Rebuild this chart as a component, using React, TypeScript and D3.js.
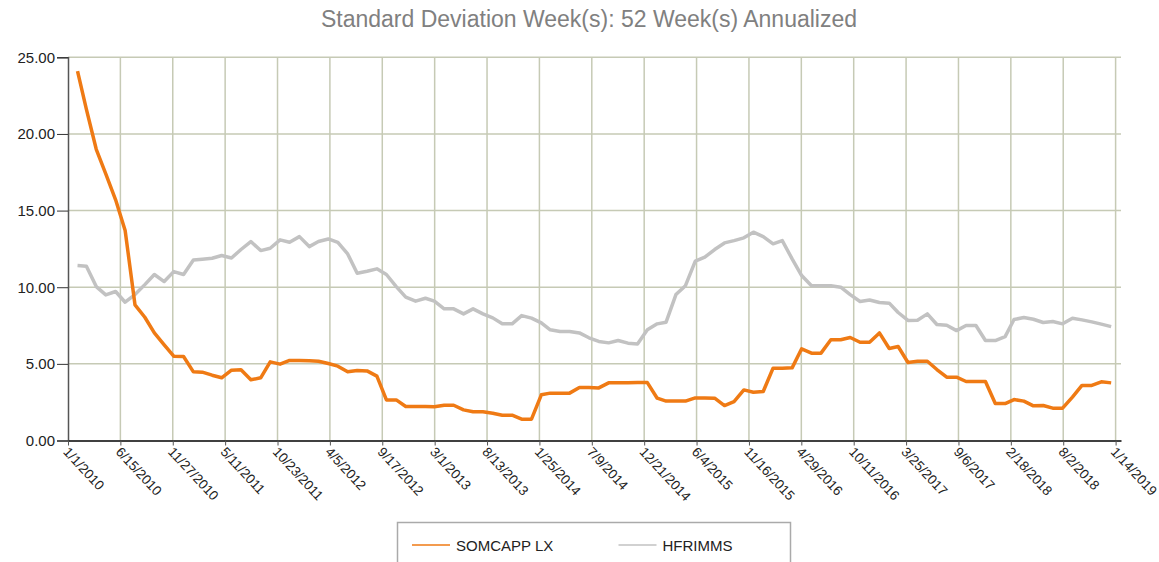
import React, { useEffect, useRef } from "react";
import * as d3 from "d3";

// monthly observations, month ends Jan 2010 .. Dec 2018
const firstMonth = "2010-01";
const somcapp = [
  24.1, 21.6, 19.0, 17.4, 15.7, 13.7, 8.85, 8.04, 7.02, 6.24, 5.5, 5.48, 4.48, 4.46, 4.26, 4.09, 4.59, 4.61, 3.96, 4.09,
  5.13, 4.98, 5.22, 5.22, 5.2, 5.17, 5.02, 4.85, 4.48, 4.57, 4.54, 4.2, 2.65, 2.65, 2.22, 2.22, 2.22, 2.2, 2.3, 2.3,
  2.0, 1.87, 1.87, 1.78, 1.65, 1.65, 1.39, 1.39, 2.98, 3.09, 3.09, 3.09, 3.46, 3.45, 3.43, 3.76, 3.76, 3.76, 3.78, 3.78,
  2.76, 2.57, 2.57, 2.57, 2.78, 2.78, 2.76, 2.28, 2.54, 3.3, 3.15, 3.2, 4.72, 4.72, 4.74, 5.98, 5.7, 5.7, 6.57, 6.57,
  6.72, 6.41, 6.41, 7.02, 6.0, 6.13, 5.09, 5.17, 5.17, 4.63, 4.13, 4.13, 3.85, 3.85, 3.85, 2.41, 2.41, 2.67, 2.57, 2.26,
  2.28, 2.11, 2.11, 2.83, 3.59, 3.59, 3.83, 3.76,
];
const hfrimms = [
  11.41, 11.37, 10.04, 9.5, 9.72, 9.02, 9.52, 10.17, 10.83, 10.37, 11.02, 10.83, 11.78, 11.83, 11.89, 12.07, 11.91, 12.46, 12.98, 12.39,
  12.54, 13.09, 12.93, 13.3, 12.65, 12.98, 13.15, 12.93, 12.17, 10.91, 11.04, 11.2, 10.83, 10.04, 9.35, 9.09, 9.28, 9.09, 8.59, 8.59,
  8.26, 8.59, 8.26, 8.0, 7.61, 7.61, 8.15, 7.98, 7.67, 7.22, 7.11, 7.11, 7.02, 6.7, 6.46, 6.37, 6.52, 6.35, 6.3, 7.22,
  7.61, 7.72, 9.52, 10.1, 11.7, 11.96, 12.46, 12.89, 13.04, 13.22, 13.59, 13.3, 12.83, 13.04, 11.85, 10.76, 10.1, 10.1, 10.1, 10.0,
  9.52, 9.07, 9.17, 9.0, 8.96, 8.35, 7.83, 7.85, 8.26, 7.57, 7.52, 7.17, 7.5, 7.5, 6.52, 6.52, 6.78, 7.89, 8.02, 7.91,
  7.7, 7.76, 7.61, 7.98, 7.87, 7.74, 7.59, 7.43,
];
const xTickLabels = [
  "1/1/2010", "6/15/2010", "11/27/2010", "5/11/2011", "10/23/2011", "4/5/2012", "9/17/2012", "3/1/2013",
  "8/13/2013", "1/25/2014", "7/9/2014", "12/21/2014", "6/4/2015", "11/16/2015", "4/29/2016", "10/11/2016",
  "3/25/2017", "9/6/2017", "2/18/2018", "8/2/2018", "1/14/2019",
];
const yTicks = [0, 5, 10, 15, 20, 25];
const seriesNames = ["SOMCAPP LX", "HFRIMMS"];
const seriesColors = ["#ef7a14", "#c2c2c2"];
const title = "Standard Deviation Week(s): 52 Week(s) Annualized";

const W = 1159;
const H = 562;
const font = "Arial, 'Liberation Sans', Helvetica, sans-serif";

export default function App() {
  const ref = useRef<SVGSVGElement>(null);

  useEffect(() => {
    const svg = d3.select(ref.current);
    svg.selectAll("*").remove();

    const parse = d3.utcParse("%m/%d/%Y");
    const start = d3.utcParse("%Y-%m")(firstMonth)!;
    // month-end dates
    const dates = somcapp.map((_, i) => d3.utcDay.offset(d3.utcMonth.offset(start, i + 1), -1));
    const tickDates = xTickLabels.map(s => parse(s)!);

    const x = d3.scaleUtc()
      .domain([tickDates[0], new Date(Date.UTC(2019, 0, 31))])
      .range([68, 1121]);
    const y = d3.scaleLinear().domain([0, 25]).range([440.5, 57.3]);

    // title
    svg.append("text")
      .attr("x", 589)
      .attr("y", 27)
      .attr("text-anchor", "middle")
      .attr("font-family", font)
      .attr("font-size", 23)
      .attr("fill", "#808080")
      .text(title);

    // grid
    const grid = svg.append("g");
    grid.selectAll(".hg")
      .data(yTicks.filter(d => d > 0))
      .enter()
      .append("line")
      .attr("x1", 68)
      .attr("x2", 1121)
      .attr("y1", d => y(d))
      .attr("y2", d => y(d))
      .attr("stroke", "#c6cab5")
      .attr("stroke-width", 1.5);
    grid.selectAll(".vg")
      .data(tickDates.slice(1))
      .enter()
      .append("line")
      .attr("x1", d => x(d))
      .attr("x2", d => x(d))
      .attr("y1", y(25))
      .attr("y2", y(0))
      .attr("stroke", "#c6cab5")
      .attr("stroke-width", 1.5);

    // y axis
    const yAxis = svg.append("g")
      .attr("transform", "translate(68,0)")
      .call(d3.axisLeft(y).tickValues(yTicks).tickSize(11).tickPadding(2).tickFormat(d => d3.format(".2f")(d as number)));
    yAxis.select(".domain").attr("stroke", "#555").attr("stroke-width", 1.5);
    yAxis.selectAll(".tick line").attr("stroke", "#333");
    yAxis.selectAll("text")
      .attr("font-family", font)
      .attr("font-size", 15)
      .attr("fill", "#222");

    // x axis
    const xAxis = svg.append("g")
      .attr("transform", `translate(0,${y(0)})`)
      .call(d3.axisBottom(x).tickValues(tickDates).tickSize(5).tickSizeOuter(0).tickFormat((_, i) => xTickLabels[i]));
    xAxis.select(".domain").attr("stroke", "#000").attr("stroke-width", 1.5);
    xAxis.selectAll(".tick line").attr("stroke", "#555");
    xAxis.selectAll("text")
      .attr("font-family", font)
      .attr("font-size", 13.5)
      .attr("fill", "#222")
      .attr("text-anchor", "start")
      .attr("dy", null)
      .attr("y", 0)
      .attr("transform", "translate(-6,12) rotate(47)");

    // lines
    const line = d3.line<number>()
      .x((_, i) => x(dates[i]))
      .y(d => y(d));
    [hfrimms, somcapp].forEach((vals, k) => {
      svg.append("path")
        .datum(vals)
        .attr("d", line)
        .attr("fill", "none")
        .attr("stroke", k === 0 ? seriesColors[1] : seriesColors[0])
        .attr("stroke-width", 3.5)
        .attr("stroke-linejoin", "round");
    });

    // legend
    const legend = svg.append("g");
    legend.append("rect")
      .attr("x", 397.5)
      .attr("y", 522.5)
      .attr("width", 393)
      .attr("height", 60)
      .attr("fill", "#fff")
      .attr("stroke", "#aaa")
      .attr("stroke-width", 1.5);
    seriesNames.forEach((name, i) => {
      const lx = 412 + i * 206.5;
      legend.append("line")
        .attr("x1", lx)
        .attr("x2", lx + 38)
        .attr("y1", 545)
        .attr("y2", 545)
        .attr("stroke", seriesColors[i])
        .attr("stroke-width", 1.5);
      legend.append("text")
        .attr("x", lx + 44)
        .attr("y", 550.5)
        .attr("font-family", font)
        .attr("font-size", 15)
        .attr("fill", "#222")
        .text(name);
    });
  }, []);

  return (
    <svg
      ref={ref}
      width={W}
      height={H}
      style={{ position: "absolute", left: 0, top: 0, background: "#fff" }}
    />
  );
}
